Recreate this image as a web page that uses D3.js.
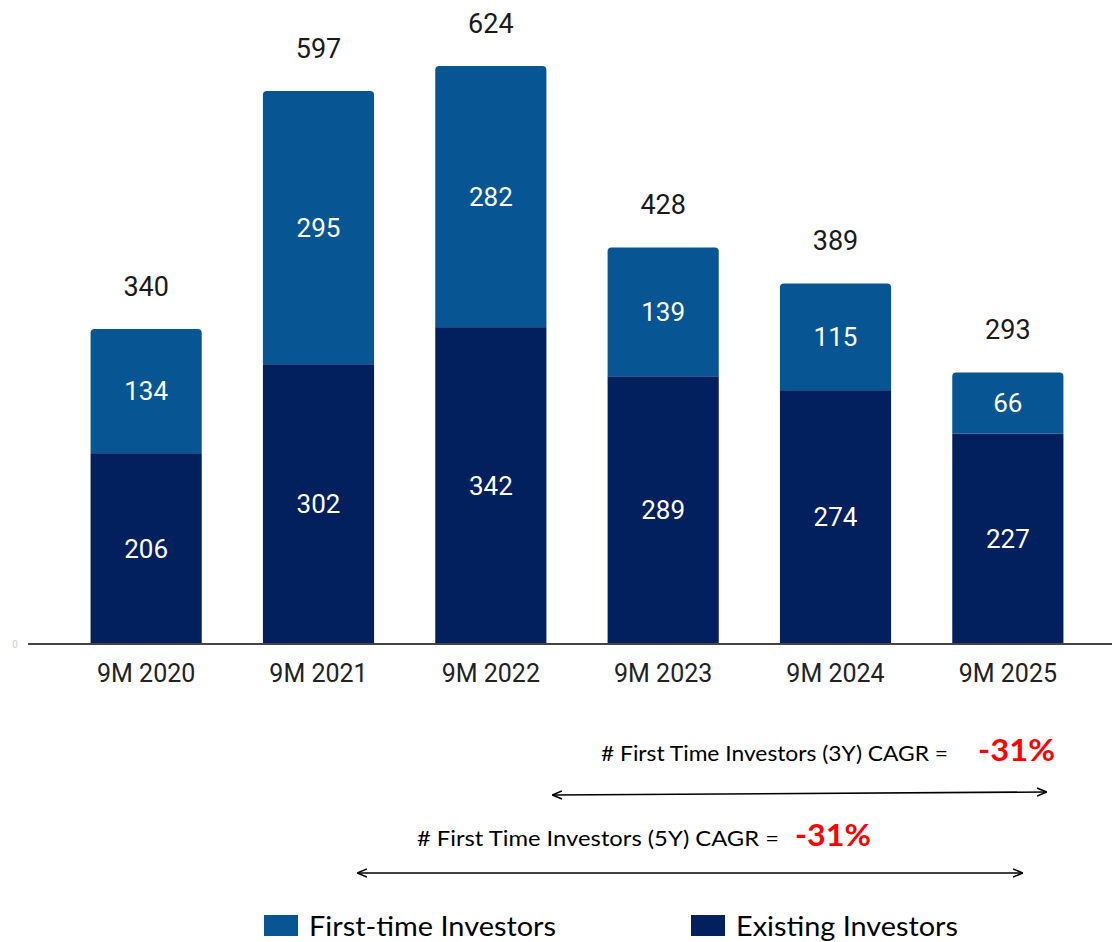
<!DOCTYPE html>
<html>
<head>
<meta charset="utf-8">
<script src="https://cdn.jsdelivr.net/npm/d3@7"></script>
<style>
  body { margin: 0; background: #fff; }
  svg { display: block; }
</style>
</head>
<body>
<svg id="svg" width="1112" height="942"></svg>
<script>
// chart data
var periods = ["9M 2020", "9M 2021", "9M 2022", "9M 2023", "9M 2024", "9M 2025"];
var existingInvestors = [206, 302, 342, 289, 274, 227];
var firstTimeInvestors = [134, 295, 282, 139, 115, 66];
var totals = [340, 597, 624, 428, 389, 293];
var legendLabels = ["First-time Investors", "Existing Investors"];
var cagrNotes = [
  { label: "# First Time Investors (3Y) CAGR =", value: "-31%", from: "9M 2022", to: "9M 2025" },
  { label: "# First Time Investors (5Y) CAGR =", value: "-31%", from: "9M 2020", to: "9M 2025" }
];

var COL_FIRST = "#085594",
    COL_EXIST = "#03205e";

var svg = d3.select("#svg");

var x = d3.scaleBand()
  .domain(periods)
  .range([63, 1091])
  .paddingInner(0.355)
  .paddingOuter(0.16);

var y = d3.scaleLinear()
  .domain([0, 680])
  .range([644, 14]);

// rounded-top rectangle
function topRounded(x0, y0, w, h, r){
  return "M" + x0 + "," + (y0 + h) +
    "V" + (y0 + r) +
    "Q" + x0 + "," + y0 + " " + (x0 + r) + "," + y0 +
    "H" + (x0 + w - r) +
    "Q" + (x0 + w) + "," + y0 + " " + (x0 + w) + "," + (y0 + r) +
    "V" + (y0 + h) + "Z";
}

var rows = periods.map(function(p, i){
  return { period: p, existing: existingInvestors[i], first: firstTimeInvestors[i], total: totals[i] };
});

var g = svg.append("g");

// existing investors (bottom)
g.selectAll("rect.exist")
  .data(rows)
  .enter()
  .append("rect")
  .attr("class", "exist")
  .attr("x", function(d){ return x(d.period); })
  .attr("y", function(d){ return y(d.existing); })
  .attr("width", x.bandwidth())
  .attr("height", function(d){ return y(0) - y(d.existing); })
  .attr("fill", COL_EXIST);

// first-time investors (top)
g.selectAll("path.first")
  .data(rows)
  .enter()
  .append("path")
  .attr("class", "first")
  .attr("d", function(d){
    var y0 = y(d.existing + d.first);
    return topRounded(x(d.period), y0, x.bandwidth(), y(d.existing) - y0, 4);
  })
  .attr("fill", COL_FIRST);

var font = "Roboto, 'Noto Sans', sans-serif";

// segment labels
g.selectAll("text.exist-lbl")
  .data(rows)
  .enter()
  .append("text")
  .attr("x", function(d){ return x(d.period) + x.bandwidth() / 2; })
  .attr("y", function(d){ return (y(0) + y(d.existing)) / 2; })
  .attr("dy", "0.36em")
  .attr("text-anchor", "middle")
  .style("font-family", font)
  .style("font-size", "26px")
  .style("fill", "#ffffff")
  .text(function(d){ return d.existing; });

g.selectAll("text.first-lbl")
  .data(rows)
  .enter()
  .append("text")
  .attr("x", function(d){ return x(d.period) + x.bandwidth() / 2; })
  .attr("y", function(d){ return (y(d.existing) + y(d.existing + d.first)) / 2; })
  .attr("dy", "0.36em")
  .attr("text-anchor", "middle")
  .style("font-family", font)
  .style("font-size", "26px")
  .style("fill", "#ffffff")
  .text(function(d){ return d.first; });

// totals
g.selectAll("text.total")
  .data(rows)
  .enter()
  .append("text")
  .attr("x", function(d){ return x(d.period) + x.bandwidth() / 2; })
  .attr("y", function(d){ return y(d.total) - 43; })
  .attr("dy", "0.36em")
  .attr("text-anchor", "middle")
  .style("font-family", font)
  .style("font-size", "27px")
  .style("fill", "#1a1a1a")
  .style("stroke", "#ffffff")
  .style("stroke-width", "3px")
  .style("paint-order", "stroke")
  .text(function(d){ return d.total; });

// baseline
svg.append("line")
  .attr("x1", 28).attr("x2", 1112)
  .attr("y1", y(0)).attr("y2", y(0))
  .style("stroke", "#444").style("stroke-width", 2);

svg.append("text")
  .attr("x", 15).attr("y", y(0) + 4)
  .attr("text-anchor", "middle")
  .style("font-family", font)
  .style("font-size", "10px")
  .style("fill", "#d0d0d0")
  .text("0");

// x axis labels
var xAxis = d3.axisBottom(x).tickSize(0).tickPadding(20);
var ax = svg.append("g")
  .attr("transform", "translate(0," + y(0) + ")")
  .call(xAxis);
ax.select(".domain").remove();
ax.selectAll("text")
  .style("font-family", font)
  .style("font-size", "25px")
  .style("fill", "#222");

// CAGR annotations
var noteFont = "Lato, 'Open Sans', sans-serif";
var notePos = [
  { textX: 601, textW: 347, textY: 753, valX: 978, valW: 77, arrowY1: 795, arrowY2: 792, x1: 553, x2: 1046 },
  { textX: 417, textW: 362, textY: 838, valX: 795, valW: 76, arrowY1: 873, arrowY2: 873, x1: 358, x2: 1022 }
];

var defs = svg.append("defs");
defs.append("marker")
  .attr("id", "arr")
  .attr("viewBox", "0 0 10 10")
  .attr("refX", 9).attr("refY", 5)
  .attr("markerWidth", 10).attr("markerHeight", 10)
  .attr("markerUnits", "userSpaceOnUse")
  .attr("orient", "auto-start-reverse")
  .append("path")
  .attr("d", "M0,1 L10,5 L0,9")
  .attr("fill", "none")
  .attr("stroke", "#000")
  .attr("stroke-width", 1.6);

cagrNotes.forEach(function(note, i){
  var p = notePos[i];
  svg.append("text")
    .attr("x", p.textX).attr("y", p.textY)
    .attr("dy", "0.36em")
    .attr("textLength", p.textW)
    .attr("lengthAdjust", "spacingAndGlyphs")
    .style("font-family", noteFont)
    .style("font-size", "22px")
    .style("fill", "#000")
    .text(note.label);
  svg.append("text")
    .attr("x", p.valX).attr("y", p.textY - 3)
    .attr("dy", "0.36em")
    .attr("textLength", p.valW)
    .attr("lengthAdjust", "spacingAndGlyphs")
    .style("font-family", noteFont)
    .style("font-size", "31px")
    .style("font-weight", "bold")
    .style("fill", "#ff0000")
    .text(note.value);
  svg.append("line")
    .attr("x1", p.x1).attr("x2", p.x2)
    .attr("y1", p.arrowY1).attr("y2", p.arrowY2)
    .attr("stroke", "#000")
    .attr("stroke-width", 1.6)
    .attr("marker-start", "url(#arr)")
    .attr("marker-end", "url(#arr)");
});

// legend
var legendPos = [
  { sx: 264, tx: 309, tw: 247, color: COL_FIRST },
  { sx: 691, tx: 736, tw: 222, color: COL_EXIST }
];
legendLabels.forEach(function(lbl, i){
  var p = legendPos[i];
  svg.append("rect")
    .attr("x", p.sx).attr("y", 915)
    .attr("width", 34).attr("height", 21)
    .attr("fill", p.color);
  svg.append("text")
    .attr("x", p.tx).attr("y", 926)
    .attr("dy", "0.36em")
    .attr("textLength", p.tw)
    .attr("lengthAdjust", "spacingAndGlyphs")
    .style("font-family", noteFont)
    .style("font-size", "27px")
    .style("fill", "#000")
    .text(lbl);
});
</script>
</body>
</html>
